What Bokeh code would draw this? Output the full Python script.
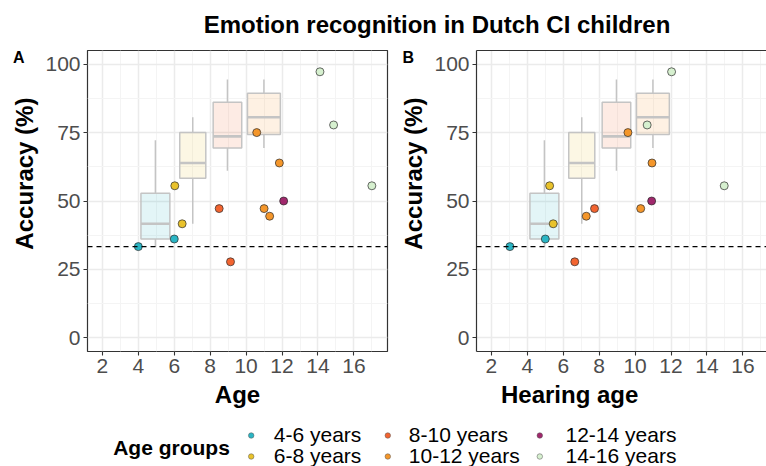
import math
from bokeh.plotting import figure
from bokeh.models import Range1d, FixedTicker, Span, LinearAxis, Title
from bokeh.layouts import column, row
from bokeh.embed import file_html
from bokeh.resources import INLINE
from bokeh.core.properties import value

# ---------------- data ----------------
TITLE = "Emotion recognition in Dutch CI children"
Y_LABEL = "Accuracy (%)"
X_LABELS = ["Age", "Hearing age"]
PANEL_TAGS = ["A", "B"]
LEGEND_TITLE = "Age groups"
GROUPS = ["4-6 years", "6-8 years", "8-10 years", "10-12 years", "12-14 years", "14-16 years"]
GROUP_COLORS = ["#2ab5c4", "#e9c22b", "#f26430", "#f4962a", "#a0286c", "#d6f0cf"]

# CI children (points)
ci_group = [0, 0, 1, 1, 2, 2, 3, 3, 3, 3, 4, 5, 5, 5]
ci_age = [4.0, 6.0, 6.03, 6.44, 8.5, 9.13, 10.59, 11.85, 11.0, 11.31, 12.09, 14.11, 14.87, 17.0]
ci_hearing_age = [3.03, 5.0, 5.24, 5.44, 7.74, 6.64, 9.6, 10.94, 10.31, 7.28, 10.92, 12.03, 10.67, 14.96]
ci_accuracy = [33.33, 36.11, 55.56, 41.67, 47.22, 27.78, 75.0, 63.89, 47.22, 44.44, 50.0, 97.22, 77.78, 55.56]

# Normal-hearing reference (boxplots)
nh_group = [0, 1, 2, 3]
nh_center = [4.95, 7.03, 8.96, 10.99]
nh_width = [1.61, 1.45, 1.59, 1.83]
nh_low = [33.3, 41.7, 61.1, 69.4]
nh_q1 = [36.1, 58.3, 69.4, 74.3]
nh_med = [41.7, 63.9, 73.6, 80.6]
nh_q3 = [52.8, 75.0, 86.1, 89.4]
nh_high = [72.2, 80.6, 94.4, 94.4]

CHANCE = 100 / 3

X_TICKS = [2, 4, 6, 8, 10, 12, 14, 16]
X_MINOR = [1, 3, 5, 7, 9, 11, 13, 15, 17]
Y_TICKS = [0, 25, 50, 75, 100]
Y_MINOR = [12.5, 37.5, 62.5, 87.5]

FONT = "Liberation Sans"
BOX_LINE = "#c4c4c4"
BORDER = "#333333"

# ---------------- layout constants (pixels) ----------------
W = 766
TITLE_H = 50
ROW_H = 368
BOT_B = 67
LEFT_B = 47
BOTTOM_H = 466 - TITLE_H - ROW_H
X_START = 1.17
PX_PER_UNIT = 300 / (17.87 - 1.17)


def strip(width, height):
    s = figure(width=width, height=height, x_range=Range1d(0, width), y_range=Range1d(height, 0),
               output_backend="svg", toolbar_location=None, min_border=0,
               x_axis_type=None, y_axis_type=None, outline_line_color=None)
    s.xgrid.visible = False
    s.ygrid.visible = False
    return s


def side_strip(width, tag, tag_x, label_x):
    s = strip(width, ROW_H)
    s.text(x=[tag_x], y=[9], text=[tag], text_font=value(FONT), text_font_style="bold",
           text_font_size="16px", text_align="left", text_baseline="alphabetic", text_color="black")
    s.text(x=[label_x], y=[(ROW_H - BOT_B) / 2], text=[Y_LABEL], text_font=value(FONT),
           text_font_style="bold", text_font_size="24px", text_align="center",
           text_baseline="alphabetic", text_color="black", angle=math.pi / 2)
    return s


def make_panel(xvals, width, right_border, frame_w, outline, xlabel, xlabel_align, xlabel_offset):
    x_end = X_START + frame_w / PX_PER_UNIT
    p = figure(width=width, height=ROW_H, x_range=Range1d(X_START, x_end), y_range=Range1d(-5, 105),
               output_backend="svg", toolbar_location=None,
               min_border_left=LEFT_B, min_border_right=right_border,
               min_border_top=0, min_border_bottom=BOT_B)
    p.background_fill_color = "white"
    p.border_fill_color = "white"
    if outline:
        p.outline_line_color = BORDER
        p.outline_line_width = 1.2
    else:
        p.outline_line_color = None

    xt = FixedTicker(ticks=X_TICKS, minor_ticks=X_MINOR)
    yt = FixedTicker(ticks=Y_TICKS, minor_ticks=Y_MINOR)
    p.xaxis.ticker = xt
    p.yaxis.ticker = yt
    p.xgrid.ticker = xt
    p.ygrid.ticker = yt
    for g in (p.xgrid, p.ygrid):
        g.grid_line_color = "#ebebeb"
        g.grid_line_width = 1.5
        g.minor_grid_line_color = "#f4f4f4"
        g.minor_grid_line_width = 1

    for ax in (p.xaxis, p.yaxis):
        ax.major_tick_in = 0
        ax.major_tick_out = 4
        ax.major_tick_line_color = BORDER
        ax.major_tick_line_width = 1.1
        ax.minor_tick_line_color = None
        ax.major_label_text_font = FONT
        ax.major_label_text_font_size = "21px"
        ax.major_label_text_color = "#4d4d4d"
        ax.major_label_standoff = 3
        ax.axis_line_color = None if outline else BORDER
        ax.axis_line_width = 1.2

    if not outline:
        top_axis = LinearAxis(ticker=FixedTicker(ticks=[]), axis_line_color=BORDER, axis_line_width=1.2,
                              major_tick_out=0, major_tick_in=0, minor_tick_out=0, minor_tick_in=0,
                              major_label_standoff=0, axis_label_standoff=0)
        p.add_layout(top_axis, "above")

    # x-axis title, kept in the same canvas as the tick labels
    p.add_layout(Title(text=xlabel, align=xlabel_align, offset=xlabel_offset, vertical_align="top",
                       standoff=10, text_font=FONT, text_font_size="24px", text_font_style="bold",
                       text_color="black"), "below")

    # boxplots (normal-hearing reference)
    lefts = [c - w / 2 for c, w in zip(nh_center, nh_width)]
    rights = [c + w / 2 for c, w in zip(nh_center, nh_width)]
    box_fill = [GROUP_COLORS[g] for g in nh_group]
    p.segment(x0=nh_center, y0=nh_q3, x1=nh_center, y1=nh_high, line_color=BOX_LINE, line_width=1.5)
    p.segment(x0=nh_center, y0=nh_q1, x1=nh_center, y1=nh_low, line_color=BOX_LINE, line_width=1.5)
    p.quad(left=lefts, right=rights, bottom=nh_q1, top=nh_q3, fill_color=box_fill, fill_alpha=0.13,
           line_color=BOX_LINE, line_width=1.5)
    p.segment(x0=lefts, y0=nh_med, x1=rights, y1=nh_med, line_color=BOX_LINE, line_width=2.6)

    # CI points
    pt_fill = [GROUP_COLORS[g] for g in ci_group]
    p.scatter(x=xvals, y=ci_accuracy, size=8, marker="circle", fill_color=pt_fill,
              line_color="#2b2b2b", line_width=0.7)

    p.add_layout(Span(location=CHANCE, dimension="width", line_color="black",
                      line_dash="5 4", line_width=1.3))
    return p


# middle row: [strip A | panel A | strip B | panel B]
sA = side_strip(40, PANEL_TAGS[0], 12.5, 24)
pA = make_panel(ci_age, 357, 10, 300, True, X_LABELS[0], "center", 0)
sB = side_strip(32, PANEL_TAGS[1], 5, 16)
pB = make_panel(ci_hearing_age, 337, 0, 290, False, X_LABELS[1], "left", 24.5)

# ---------------- title strip ----------------
t = strip(W, TITLE_H)
t.text(x=[436.5], y=[24], text=[TITLE], text_font=value(FONT), text_font_style="bold",
       text_font_size="24px", text_align="center", text_baseline="alphabetic", text_color="black")

# ---------------- bottom strip: legend ----------------
b = strip(W, BOTTOM_H)
b.text(x=[112.7], y=[29], text=[LEGEND_TITLE], text_font=value(FONT), text_font_style="bold",
       text_font_size="21px", text_align="left", text_baseline="alphabetic", text_color="black")
key_col_x = [250.7, 387.3, 539.3]
lab_col_x = [273.3, 408.3, 565.0]
key_row_y = [17, 38]
lab_row_y = [16.3, 37.3]
kx, ky, lx, ly = [], [], [], []
for i in range(len(GROUPS)):
    c, r = i // 2, i % 2
    kx.append(key_col_x[c]); ky.append(key_row_y[r])
    lx.append(lab_col_x[c]); ly.append(lab_row_y[r])
b.scatter(x=kx, y=ky, size=5.5, marker="circle", fill_color=GROUP_COLORS, line_color="#555555", line_width=0.5)
b.text(x=lx, y=ly, text=GROUPS, text_font=value(FONT), text_font_size="21px",
       text_align="left", text_baseline="alphabetic", text_color="black")

layout = column(t, row(sA, pA, sB, pB), b)
open("out.html", "w").write(file_html(layout, INLINE))
